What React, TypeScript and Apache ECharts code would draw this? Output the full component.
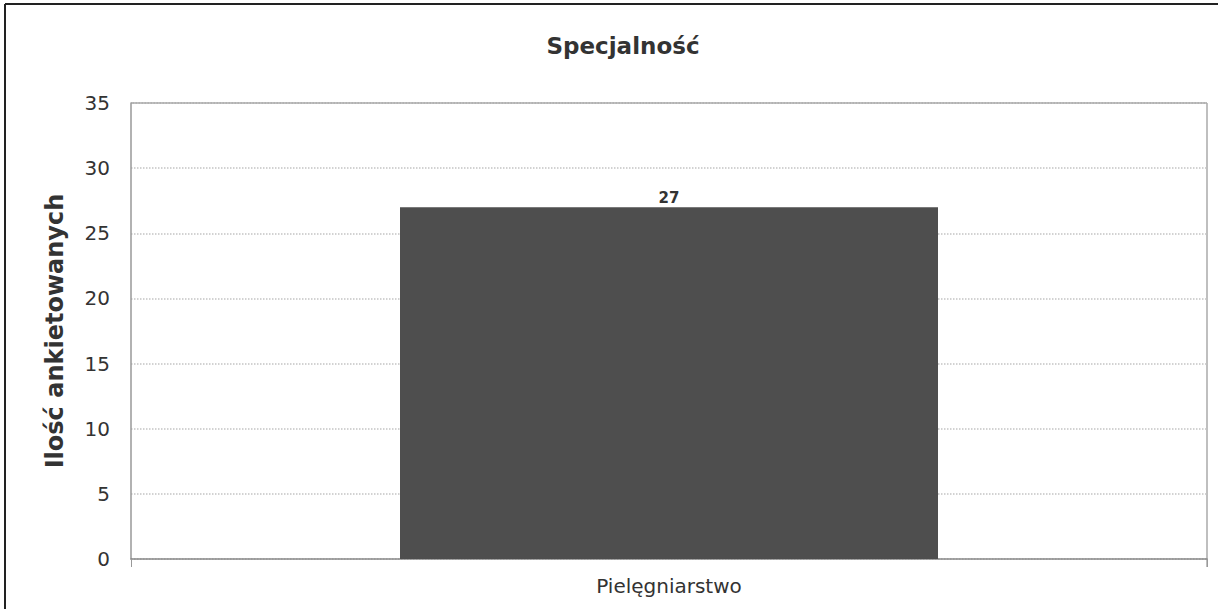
import React, { useEffect, useRef } from "react";
import * as echarts from "echarts";

const categories = ["Pielęgniarstwo"];
const values = [27];
const yTicks = { min: 0, max: 35, interval: 5 };
const titleText = "Specjalność";
const yAxisName = "Ilość ankietowanych";

export default function App() {
  const ref = useRef<HTMLDivElement>(null);
  useEffect(() => {
    if (!ref.current) return;
    const chart = echarts.init(ref.current, undefined, { renderer: "svg" });
    chart.setOption({
      animation: false,
      backgroundColor: "#ffffff",
      title: {
        text: titleText,
        left: 618,
        top: 29,
        textAlign: "center",
        textStyle: { fontFamily: "DejaVu Sans", fontWeight: "bold", fontSize: 23, color: "#333" },
      },
      graphic: [
        { type: "line", shape: { x1: 5, y1: 4, x2: 1218, y2: 4 }, style: { stroke: "#222", lineWidth: 2 } },
        { type: "line", shape: { x1: 5, y1: 4, x2: 5, y2: 609 }, style: { stroke: "#222", lineWidth: 2 } },
        { type: "line", shape: { x1: 1207, y1: 103, x2: 1207, y2: 567 }, style: { stroke: "#aaa", lineWidth: 1.5 } },
        { type: "line", shape: { x1: 131, y1: 103, x2: 1207, y2: 103 }, style: { stroke: "#999", lineWidth: 1.5 } },
      ],
      grid: { left: 131, top: 103, right: 11, bottom: 50, containLabel: false },
      xAxis: {
        type: "category",
        data: categories,
        axisLine: { lineStyle: { color: "#888", width: 1.5 } },
        axisTick: { show: true, length: 8, lineStyle: { color: "#999" } },
        axisLabel: { fontFamily: "DejaVu Sans", fontSize: 20, color: "#333", margin: 17 },
      },
      yAxis: {
        type: "value",
        min: yTicks.min,
        max: yTicks.max,
        interval: yTicks.interval,
        name: yAxisName,
        nameLocation: "middle",
        nameGap: 64,
        nameTextStyle: { fontFamily: "DejaVu Sans", fontWeight: "bold", fontSize: 24, color: "#333" },
        axisLine: { show: true, lineStyle: { color: "#999", width: 1.5 } },
        axisTick: { show: false },
        axisLabel: { fontFamily: "DejaVu Sans", fontSize: 20, color: "#333", margin: 21 },
        splitLine: { show: true, lineStyle: { color: "#c4c4c4", type: "dotted", width: 1.5 } },
      },
      series: [
        {
          type: "bar",
          data: values,
          barWidth: "50%",
          itemStyle: { color: "#4e4e4e" },
          label: {
            show: true,
            position: "top",
            distance: 2,
            fontFamily: "DejaVu Sans",
            fontWeight: "bold",
            fontSize: 15,
            color: "#333",
          },
        },
      ],
    });
    return () => chart.dispose();
  }, []);
  return <div ref={ref} style={{ position: "fixed", left: 0, top: 0, width: 1218, height: 609 }} />;
}
